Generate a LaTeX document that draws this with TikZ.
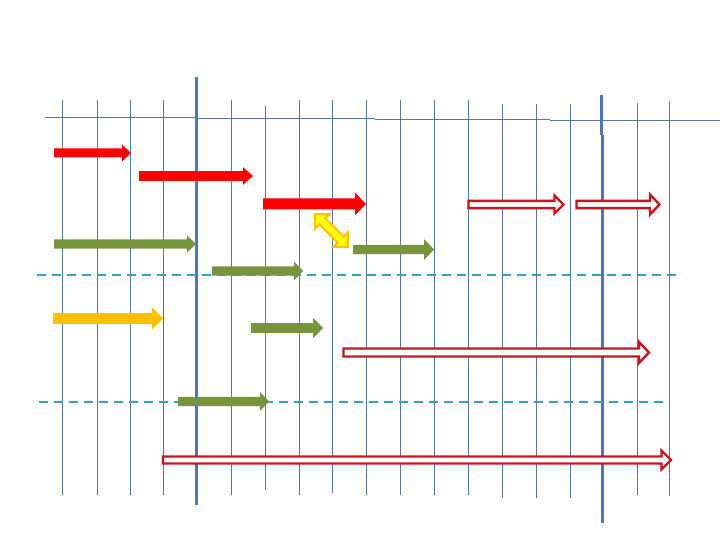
\documentclass[tikz,border=0pt]{standalone}
\definecolor{gridc}{RGB}{84,118,158}
\definecolor{thickc}{RGB}{74,120,180}
\definecolor{dashc}{RGB}{50,160,200}
\definecolor{redc}{RGB}{255,0,0}
\definecolor{greenc}{RGB}{119,147,60}
\definecolor{goldc}{RGB}{255,192,0}
\definecolor{yelc}{RGB}{255,255,0}
\definecolor{darkred}{RGB}{200,20,30}
\tikzset{
 gridline/.style={draw=gridc,line width=1pt},
 thickline/.style={draw=thickc,line width=3pt},
 dashline/.style={draw=dashc,line width=2pt,dash pattern=on 9pt off 6pt},
 redfill/.style={fill=redc},
 greenfill/.style={fill=greenc},
 goldfill/.style={fill=goldc},
 redout/.style={draw=darkred,line width=2.4pt,fill=white,line join=miter},
 dblarrow/.style={draw=goldc,line width=2pt,fill=yelc,line join=miter}
}
% style, x1, x2, y, shaft half, head half, head length
\newcommand\harr[7]{%
 \path[#1] (#2,#4-#5) -- (#3-#7,#4-#5) -- (#3-#7,#4-#6) -- (#3,#4) -- (#3-#7,#4+#6) -- (#3-#7,#4+#5) -- (#2,#4+#5) -- cycle;}
\begin{document}
\begin{tikzpicture}[x=1pt,y=-1pt]
\useasboundingbox (0,0) rectangle (720,540);
\fill[white] (0,0) rectangle (720,540);
% horizontal top line
\draw[gridline] (45,118) -- (197,118);
\draw[gridline] (197,119) -- (375,119);
\draw[gridline] (375,120) -- (550,120);
\draw[gridline] (550,121) -- (720,121);
% thin vertical lines
\foreach \x/\a/\b in {62/100/495,97/100/495,130/100/495,163/100/495,231/100/495,
  265/106/490,299/100/495,332/100/493,366/100/495,400/100/495,434/100/495,468/100/495,
  502/104/498,536/104/498,570/104/498,637/103/495,669/101/496}
  \draw[gridline] (\x,\a) -- (\x,\b);
% thick vertical lines
\draw[thickline] (196,77) -- (196,505);
\draw[thickline] (601,95) -- (601,135);
\draw[thickline] (602,135) -- (602,523);
% dashed lines
\draw[dashline] (37,275) -- (676,275);
\draw[dashline] (39,402) -- (663,402);
% solid red arrows
\harr{redfill}{54}{131}{153}{4.5}{8.5}{9}
\harr{redfill}{139}{253}{176}{4.8}{8.8}{10}
\harr{redfill}{263}{366}{204}{5.5}{11.5}{11}
% green arrows
\harr{greenfill}{54}{196}{244}{4.6}{8.5}{9}
\harr{greenfill}{212}{303}{271}{4.6}{9.5}{9}
\harr{greenfill}{353}{434}{249.5}{4.6}{10.5}{10}
\harr{greenfill}{251}{323}{328}{4.8}{10}{10}
\harr{greenfill}{178}{269}{401.5}{4.7}{9.5}{9}
% gold arrow
\harr{goldfill}{53}{163}{318.5}{5.3}{11}{11}
% outlined red arrows
\harr{redout}{468.5}{563.5}{204.5}{3.6}{9}{9}
\harr{redout}{576.5}{659.5}{204.5}{3.6}{10}{9.5}
\harr{redout}{343.5}{649}{352.5}{4}{10.5}{10}
\harr{redout}{163}{671}{460}{3.5}{9.5}{9.5}
% yellow double arrow
\begin{scope}[shift={(331.5,230.5)},rotate=-45]
\path[dblarrow] (-23,0) -- (-13,-10) -- (-13,-4.2) -- (13,-4.2) -- (13,-10) -- (23,0)
  -- (13,10) -- (13,4.2) -- (-13,4.2) -- (-13,10) -- cycle;
\end{scope}
\end{tikzpicture}
\end{document}
